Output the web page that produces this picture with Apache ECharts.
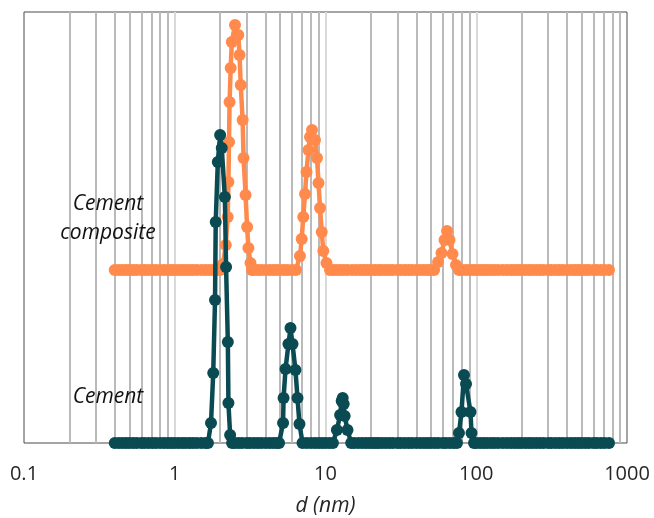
<!DOCTYPE html>
<html>
<head>
<meta charset="utf-8">
<script src="https://cdn.jsdelivr.net/npm/echarts@6/dist/echarts.min.js"></script>
<style>
html,body{margin:0;padding:0;background:#fff;}
#chart{width:654px;height:518px;}
</style>
</head>
<body>
<div id="chart"></div>
<script>
// ---- data (d in nm, intensity in arbitrary units) ----
const xTickLabels = ['0.1', '1', '10', '100', '1000'];
const minorGridD = [0.2,0.3,0.4,0.5,0.6,0.7,0.8,0.9,2,3,4,5,6,7,8,9,20,30,40,50,60,70,80,90,200,300,400,500,600,700,800,900];
const majorGridD = [1, 10, 100];

const cementLevel = 0;
const cementBaseD = [0.40,0.425,0.45,0.475,0.50,0.53,0.56,0.60,0.63,0.67,0.71,0.75,0.80,0.85,0.90,0.95,1.00,1.06,1.12,1.18,1.25,1.32,1.40,1.50,1.60,1.66,
  2.40,2.50,2.65,2.80,3.00,3.15,3.35,3.55,3.75,4.00,4.25,4.50,4.75,
  7.50,8.00,8.50,9.00,9.50,10.0,10.6,
  15.5,16.5,17.5,18.5,19.5,20.5,21.5,22.4,23.6,25.0,26.5,28.0,30.0,31.5,33.5,35.5,37.5,40.0,42.5,45.0,47.5,50.0,53.0,56.0,60.0,63.0,67.0,71.0,
  100,106,112,118,125,132,140,150,160,170,180,190,200,212,224,236,250,265,280,300,315,335,355,375,400,425,450,475,500,530,560,600,630,670,710,760];
const cementPeakD = [1.74,1.80,1.85,1.87,1.93,2.00,2.05,2.15,2.19,2.25,2.27,2.33,
  4.92,5.23,5.27,5.43,5.68,5.86,6.04,6.32,6.52,6.72,7.04,
  11.2,11.9,12.5,12.8,13.0,13.2,13.4,14.0,14.8,
  74.5,76.8,79.8,82.9,85.5,91.6,93.0,96.6];
const cementPeakI = [20,70,143,221,281,308,295,246,176,101,40,8,
  0,20,45,74,99,115,99,73,45,19,0,
  0,13,28,42,45,39,27,13,0,
  0,10,31,68,59,31,10,0];

const compositeLevel = 173;
const compositeBaseD = [0.40,0.425,0.45,0.475,0.50,0.53,0.56,0.60,0.63,0.67,0.71,0.75,0.80,0.85,0.90,0.95,1.00,1.06,1.12,1.18,1.25,1.32,1.40,1.50,1.60,1.70,1.80,1.90,
  3.35,3.55,3.75,4.00,4.25,4.50,4.75,5.00,5.30,5.60,6.00,
  11.2,11.8,12.5,13.2,14.0,15.0,16.0,17.0,18.0,19.0,20.0,21.2,22.4,23.6,25.0,26.5,28.0,30.0,31.5,33.5,35.5,37.5,40.0,42.5,45.0,47.5,50.0,
  80,85,90,95,100,106,112,118,125,132,140,150,160,170,180,190,200,212,224,236,250,265,280,300,315,335,355,375,400,425,450,475,500,530,560,600,630,670,710,760];
const compositePeakD = [2.00,2.09,2.18,2.245,2.27,2.29,2.31,2.35,2.39,2.51,2.64,2.69,2.74,2.82,2.86,2.95,3.02,3.08,3.18,3.25,
  6.37,6.77,6.95,7.12,7.31,7.48,7.71,7.89,8.14,8.52,8.78,8.99,9.20,9.44,9.67,10.15,10.71,
  52.5,55.8,58.8,61.6,64.0,66.5,69.6,73.4,76.8];
const compositePeakI = [173,179,198,226,261,301,341,375,401,418,408,388,358,323,285,248,216,195,180,173,
  173,187,204,226,249,271,293,306,313,303,285,260,235,211,192,180,173,
  173,181,190,203,212,203,189,178,173];

function buildSeries(baseD, level, peakD, peakI) {
  const pts = baseD.map(d => [d, level]).concat(peakD.map((d, i) => [d, peakI[i]]));
  pts.sort((a, b) => a[0] - b[0]);
  return pts;
}
const cementData = buildSeries(cementBaseD, cementLevel, cementPeakD, cementPeakI);
const compositeData = buildSeries(compositeBaseD, compositeLevel, compositePeakD, compositePeakI);

const ORANGE = '#FF8A4C';
const TEAL = '#0A4A52';
const FONT = '"Open Sans", "Noto Sans", sans-serif';
const MS = 12;

const chart = echarts.init(document.getElementById('chart'), null, {renderer: 'canvas'});
chart.setOption({
  animation: false,
  backgroundColor: '#fff',
  grid: {left: 24, right: 27, top: 12, bottom: 75, show: true, borderColor: '#4a4a4a', borderWidth: 1, containLabel: false, outerBoundsMode: 'none'},
  xAxis: {
    type: 'log', logBase: 10, min: 0.1, max: 1000,
    axisLine: {show: false}, axisTick: {show: false}, splitLine: {show: false},
    axisLabel: {
      show: true, margin: 21, fontSize: 20, color: '#262626', fontFamily: FONT,
      showMinLabel: true, showMaxLabel: true,
      formatter: function (v) {
        const idx = Math.round(Math.log10(v)) + 1;
        return xTickLabels[idx] !== undefined ? xTickLabels[idx] : '';
      }
    },
    name: 'd (nm)', nameLocation: 'middle', nameGap: 53,
    nameTextStyle: {fontSize: 21, fontStyle: 'italic', color: '#262626', fontFamily: FONT}
  },
  yAxis: {
    type: 'value', min: 0, max: 431,
    axisLine: {show: false}, axisTick: {show: false}, axisLabel: {show: false}, splitLine: {show: false}
  },
  graphic: [
    {type: 'text', x: 108, y: 219, z: 10, style: {text: 'Cement\ncomposite', align: 'center', verticalAlign: 'middle', font: 'italic 21px ' + FONT, lineHeight: 29, fill: '#111'}},
    {type: 'text', x: 108, y: 397, z: 10, style: {text: 'Cement', align: 'center', verticalAlign: 'middle', font: 'italic 21px ' + FONT, fill: '#111'}}
  ],
  series: [
    {
      type: 'line', data: [], z: 1,
      markLine: {
        z: 1, silent: true, symbol: ['none', 'none'], label: {show: false}, animation: false,
        data: minorGridD.map(v => ({xAxis: v, lineStyle: {color: '#bababa', width: 2, type: 'solid'}}))
          .concat(majorGridD.map(v => ({xAxis: v, lineStyle: {color: '#d9d9d9', width: 2, type: 'solid'}})))
      }
    },
    {
      name: 'Cement composite', type: 'line', data: compositeData, z: 3, clip: false,
      showSymbol: false, lineStyle: {color: ORANGE, width: 4.5}
    },
    {
      name: 'Cement composite', type: 'scatter', data: compositeData, z: 3, clip: false,
      symbolSize: MS, itemStyle: {color: ORANGE, opacity: 1}
    },
    {
      name: 'Cement', type: 'line', data: cementData, z: 4, clip: false,
      showSymbol: false, lineStyle: {color: TEAL, width: 4.5}
    },
    {
      name: 'Cement', type: 'scatter', data: cementData, z: 4, clip: false,
      symbolSize: MS, itemStyle: {color: TEAL, opacity: 1}
    }
  ]
});
</script>
</body>
</html>
